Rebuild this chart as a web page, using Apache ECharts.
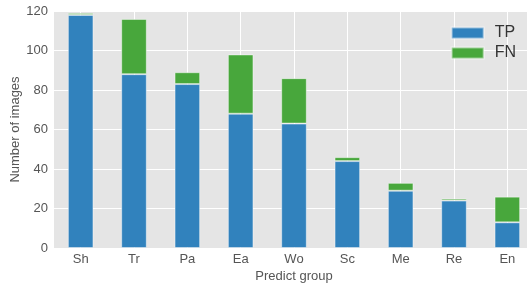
<!DOCTYPE html>
<html>
<head>
<meta charset="utf-8">
<script src="https://cdn.jsdelivr.net/npm/echarts@6/dist/echarts.min.js"></script>
<style>
  html, body { margin: 0; padding: 0; background: #fff; }
  #chart { width: 527px; height: 286px; }
</style>
</head>
<body>
<div id="chart"></div>
<script>
// 数据
const categories = ['Sh', 'Tr', 'Pa', 'Ea', 'Wo', 'Sc', 'Me', 'Re', 'En']
const tpValues = [118, 88, 83, 68, 63, 44, 29, 24, 13]
const fnValues = [1, 28, 6, 30, 23, 2, 4, 1, 13]
const yTicks = [0, 20, 40, 60, 80, 100, 120]

const font = 'Liberation Sans, Arial, sans-serif'
const chart = echarts.init(document.getElementById('chart'))

const option = {
  animation: false,
  backgroundColor: '#fff',
  textStyle: { fontFamily: font },
  grid: {
    left: 54,
    right: -7,
    top: 11,
    bottom: 38,
    outerBoundsMode: 'none',
    containLabel: false,
    show: true,
    backgroundColor: '#e5e5e5',
    borderWidth: 0,
  },
  legend: {
    right: 6,
    top: 20,
    orient: 'vertical',
    itemWidth: 32,
    itemHeight: 11,
    itemGap: 4,
    icon: 'rect',
    z: 10,
    textStyle: { fontSize: 16, color: '#333', fontFamily: font, padding: [0, 0, 0, 6] },
    data: ['TP', 'FN'],
  },
  xAxis: {
    type: 'category',
    data: categories,
    name: 'Predict group',
    nameLocation: 'middle',
    nameGap: 22,
    nameMoveOverlap: false,
    nameTextStyle: { fontSize: 13, color: '#555', fontFamily: font },
    axisLine: { show: false },
    axisTick: { show: false },
    axisLabel: { fontSize: 13, color: '#555', margin: 5, fontFamily: font },
    splitLine: { show: false },
  },
  yAxis: {
    type: 'value',
    min: 0,
    max: 120,
    interval: 20,
    name: 'Number of images',
    nameLocation: 'middle',
    nameGap: 32,
    nameMoveOverlap: false,
    nameTextStyle: { fontSize: 13, color: '#555', fontFamily: font },
    axisLine: { show: false },
    axisTick: { show: false },
    axisLabel: {
      fontSize: 13,
      color: '#555',
      margin: 6,
      fontFamily: font,
      formatter: (v) => (yTicks.includes(v) ? String(v) : ''),
    },
    splitLine: { show: true, lineStyle: { color: '#fff', width: 1 } },
  },
  series: [
    {
      // 类别中心的竖向网格线
      name: 'grid',
      type: 'line',
      data: [],
      z: 0,
      silent: true,
      markLine: {
        z: 1,
        silent: true,
        symbol: 'none',
        label: { show: false },
        lineStyle: { color: '#fff', width: 1, type: 'solid' },
        data: categories.map((c) => ({ xAxis: c })),
      },
    },
    {
      name: 'TP',
      type: 'bar',
      stack: 'total',
      data: tpValues,
      barWidth: '48%',
      z: 3,
      itemStyle: { color: '#3182bd', borderColor: 'rgba(255,255,255,0.45)', borderWidth: 1 },
    },
    {
      name: 'FN',
      type: 'bar',
      stack: 'total',
      data: fnValues,
      barWidth: '48%',
      z: 3,
      itemStyle: { color: '#48a73c', borderColor: 'rgba(255,255,255,0.45)', borderWidth: 1 },
    },
  ],
}

chart.setOption(option)
</script>
</body>
</html>
